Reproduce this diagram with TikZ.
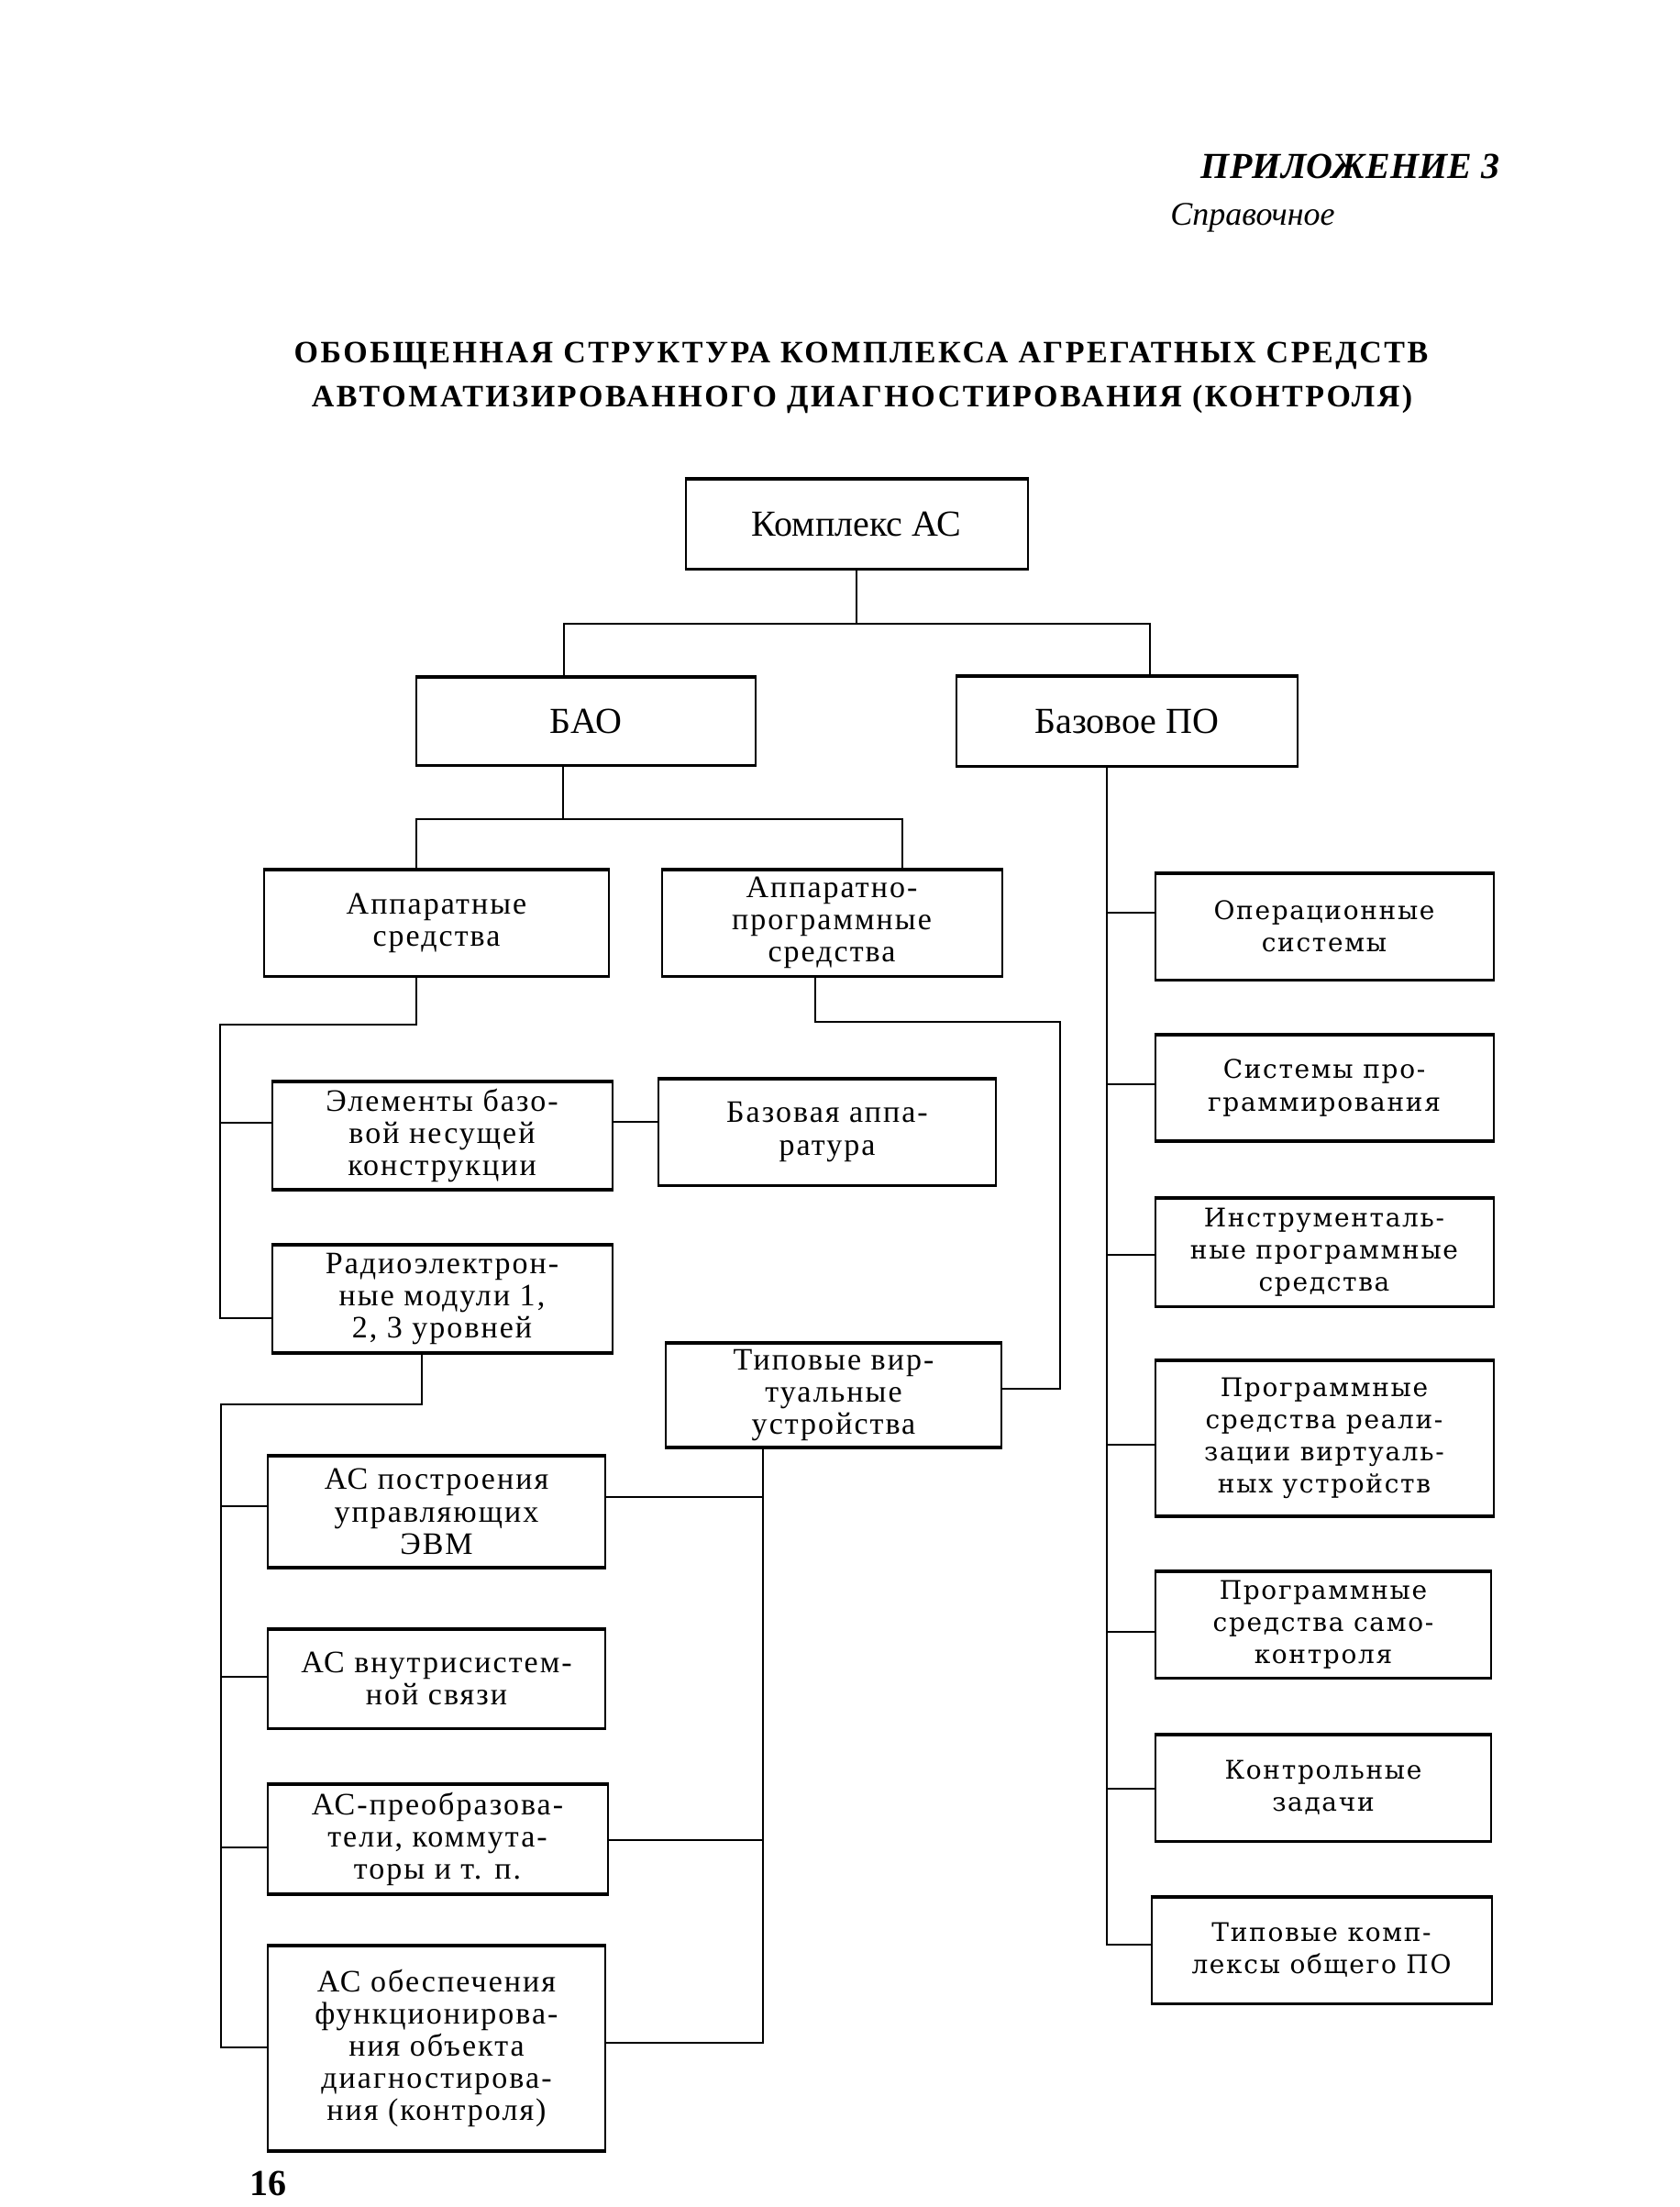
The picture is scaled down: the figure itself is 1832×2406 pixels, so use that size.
\documentclass[tikz,border=0pt]{standalone}
\usepackage{fontspec}
\setmainfont{Liberation Serif}
\newfontfamily\lfont[LetterSpace=6]{Liberation Serif}
\newfontfamily\rfont[LetterSpace=6]{DejaVu Serif}
\newfontfamily\ttlfont[LetterSpace=7.5]{Liberation Serif}
\newfontfamily\hdrfont[LetterSpace=0.5]{Liberation Serif}
\usetikzlibrary{calc}
\begin{document}
\begin{tikzpicture}[x=0.5pt,y=-0.5pt,
  box/.style={draw, line width=1pt, align=center, inner sep=0pt},
  sz/.style 2 args={minimum width={#1*0.5pt}, minimum height={#2*0.5pt}},
  lbox/.style={box, font=\lfont\fontsize{17}{17.6}\selectfont},
  tbox/.style={box, font=\fontsize{20}{22}\selectfont},
  rbox/.style={box, font=\rfont\fontsize{14}{17.6}\selectfont},
  conn/.style={line width=1.2pt},
]
\useasboundingbox[fill=white] (0,0) rectangle (1832,2406);

% header
\node[font=\hdrfont\bfseries\itshape\fontsize{20}{24}\selectfont, anchor=east, inner sep=0pt] (hdr) at (1636,181) {ПРИЛОЖЕНИЕ 3};
\node[font=\itshape\fontsize{18}{22}\selectfont] (spr) at (1366,237) {Справочное};
\node[font=\ttlfont\bfseries\fontsize{17}{20}\selectfont] (t1) at (939,388) {ОБОБЩЕННАЯ СТРУКТУРА КОМПЛЕКСА АГРЕГАТНЫХ СРЕДСТВ};
\node[font=\ttlfont\bfseries\fontsize{17}{20}\selectfont] (t2) at (940,435) {АВТОМАТИЗИРОВАННОГО ДИАГНОСТИРОВАНИЯ (КОНТРОЛЯ)};

% boxes
\node[tbox, sz={373}{97}] (b1) at (934,571) {Комплекс АС};
\node[tbox, sz={370}{95}] (b2) at (639,786) {БАО};
\node[tbox, sz={372}{97}] (b3) at (1229,786) {Базовое ПО};
\node[lbox, sz={376}{115}] (b4) at (476,1006) {Аппаратные\\средства};
\node[lbox, sz={371}{115}] (b5) at (907,1006) {Аппаратно-\\программные\\средства};
\node[lbox, sz={371}{116}] (b6) at (482,1238) {Элементы базо-\\вой несущей\\конструкции};
\node[lbox, sz={368}{115}] (b7) at (902,1234) {Базовая аппа-\\ратура};
\node[lbox, sz={371}{116}] (b8) at (482,1416) {Радиоэлектрон-\\ные модули 1,\\2, 3 уровней};
\node[lbox, sz={366}{112}] (b9) at (909,1521) {Типовые вир-\\туальные\\устройства};
\node[lbox, sz={368}{120}] (b10) at (476,1648) {АС построения\\управляющих\\ЭВМ};
\node[lbox, sz={368}{107}] (b11) at (476,1830) {АС внутрисистем-\\ной связи};
\node[lbox, sz={371}{118}] (b12) at (477,2005) {АС-преобразова-\\тели, коммута-\\торы и т. п.};
\node[lbox, sz={368}{222}] (b13) at (476,2233) {АС обеспечения\\функционирова-\\ния объекта\\диагностирова-\\ния (контроля)};
\node[rbox, sz={369}{115}] (b14) at (1444,1010) {Операционные\\системы};
\node[rbox, sz={369}{114}] (b15) at (1444,1186) {Системы про-\\граммирования};
\node[rbox, sz={369}{117}] (b16) at (1444,1365) {Инструменталь-\\ные программные\\средства};
\node[rbox, sz={369}{168}] (b17) at (1444,1568) {Программные\\средства реали-\\зации виртуаль-\\ных устройств};
\node[rbox, sz={366}{115}] (b18) at (1443,1771) {Программные\\средства само-\\контроля};
\node[rbox, sz={366}{115}] (b19) at (1443,1949) {Контрольные\\задачи};
\node[rbox, sz={371}{115}] (b20) at (1441,2126) {Типовые комп-\\лексы общего ПО};

\foreach \i in {1,...,20} {
  \draw[line width=1.8pt] (b\i.north west) -- (b\i.north east) (b\i.south west) -- (b\i.south east);
}

% page number
\node[font=\bfseries\fontsize{20}{24}\selectfont, anchor=south west, inner sep=0pt] (pg) at (272,2394) {16};

% level 1
\coordinate (h1L) at (615,680);
\coordinate (h1R) at (1254,680);
\draw[conn] (b1.south) -- (b1.south |- h1L);
\draw[conn] (b2.north -| h1L) -- (h1L) -- (h1R) -- (b3.north -| h1R);

% BAO
\coordinate (h2M) at (614,893);
\coordinate (h2L) at (454,893);
\coordinate (h2R) at (984,893);
\draw[conn] (b2.south -| h2M) -- (h2M);
\draw[conn] (b4.north -| h2L) -- (h2L) -- (h2R) -- (b5.north -| h2R);

% Apparatnye
\coordinate (a1) at (454,1117);
\coordinate (a2) at (240,1117);
\coordinate (t6) at (240,1224);
\coordinate (t8) at (240,1437);
\draw[conn] (b4.south -| a1) -- (a1) -- (a2) -- (t8) -- (t8 -| b8.west);
\draw[conn] (t6) -- (t6 -| b6.west);
\coordinate (t67) at (690,1223);
\draw[conn] (t67 -| b6.east) -- (t67 -| b7.west);

% Apparatno-programmnye
\coordinate (p1) at (889,1114);
\coordinate (p2) at (1156,1114);
\coordinate (t9) at (1156,1514);
\draw[conn] (b5.south -| p1) -- (p1) -- (p2) -- (t9) -- (t9 -| b9.east);

% Radioelektronnye
\coordinate (r1) at (460,1531);
\coordinate (r2) at (241,1531);
\coordinate (t10) at (241,1642);
\coordinate (t11) at (241,1828);
\coordinate (t12) at (241,2014);
\coordinate (t13) at (241,2232);
\draw[conn] (b8.south -| r1) -- (r1) -- (r2) -- (t13) -- (t13 -| b13.west);
\draw[conn] (t10) -- (t10 -| b10.west);
\draw[conn] (t11) -- (t11 -| b11.west);
\draw[conn] (t12) -- (t12 -| b12.west);

% Tipovye virtualnye
\coordinate (v1) at (832,1632);
\coordinate (v2) at (832,2006);
\coordinate (v3) at (832,2227);
\draw[conn] (b9.south -| v1) -- (v3) -- (v3 -| b13.east);
\draw[conn] (v1) -- (v1 -| b10.east);
\draw[conn] (v2) -- (v2 -| b12.east);

% Bazovoe PO
\coordinate (s14) at (1207,995);
\coordinate (s15) at (1207,1182);
\coordinate (s16) at (1207,1368);
\coordinate (s17) at (1207,1575);
\coordinate (s18) at (1207,1779);
\coordinate (s19) at (1207,1950);
\coordinate (s20) at (1207,2120);
\draw[conn] (b3.south -| s14) -- (s20) -- (s20 -| b20.west);
\foreach \i in {14,...,19} {
  \draw[conn] (s\i) -- (s\i -| b\i.west);
}
\end{tikzpicture}
\end{document}
